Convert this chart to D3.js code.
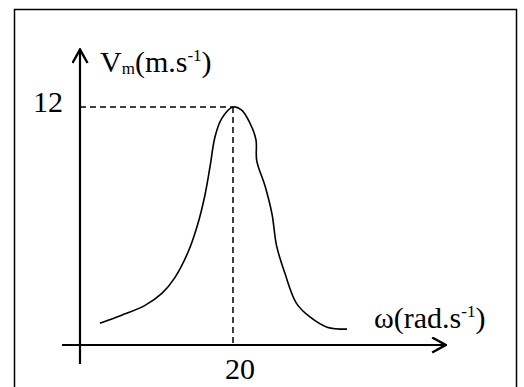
<!DOCTYPE html>
<html>
<head>
<meta charset="utf-8">
<script src="https://cdn.jsdelivr.net/npm/d3@7"></script>
<style>
  html, body { margin: 0; padding: 0; background: #fff; }
  svg { display: block; }
  text { font-family: "Liberation Serif", "Times New Roman", serif; fill: #000; }
</style>
</head>
<body>
<svg id="chart" width="524" height="387"></svg>
<script>
// Resonance curve: amplitude of velocity versus angular frequency
const omega = [2.6, 5.45, 8.5, 10.7, 12.4, 14.2, 15.4, 16.3, 17.0, 17.65, 18.5, 20.0, 21.1, 22.2, 23.0, 23.1, 24.2, 25.1, 25.7, 26.8, 28.3, 30.1, 32.3, 34.9];
const vMax  = [1.1, 1.5, 2.0, 2.6, 3.4, 4.75, 6.1, 7.5, 9.0, 10.5, 11.4, 12.0, 11.85, 11.2, 10.35, 9.3, 8.0, 6.6, 5.0, 3.6, 2.1, 1.4, 0.9, 0.8];
const peakOmega = 20;
const peakV = 12;
const xTicks = ["20"];
const yTicks = ["12"];

const svg = d3.select("#chart");

// Frame around the figure
svg.append("rect")
  .attr("x", 14.5).attr("y", 9.5)
  .attr("width", 502).attr("height", 390)
  .attr("fill", "none").attr("stroke", "#000").attr("stroke-width", 1.5);

const x = d3.scaleLinear().domain([0, 20]).range([80, 233]);
const y = d3.scaleLinear().domain([0, 12]).range([345, 107]);

// Open arrow heads
const defs = svg.append("defs");
defs.append("marker")
  .attr("id", "arrow")
  .attr("viewBox", "0 0 17 17")
  .attr("refX", 15.5).attr("refY", 8.5)
  .attr("markerWidth", 17).attr("markerHeight", 17)
  .attr("markerUnits", "userSpaceOnUse")
  .attr("orient", "auto")
  .append("path")
  .attr("d", "M2,1 L15.5,8.5 L2,16")
  .attr("fill", "none").attr("stroke", "#000").attr("stroke-width", 2.4)
  .attr("stroke-linejoin", "miter");

// Axes
svg.append("line")
  .attr("x1", x(-2.35)).attr("y1", y(0))
  .attr("x2", x(47.8)).attr("y2", y(0))
  .attr("stroke", "#000").attr("stroke-width", 2.2)
  .attr("marker-end", "url(#arrow)");
svg.append("line")
  .attr("x1", x(0)).attr("y1", y(-0.96))
  .attr("x2", x(0)).attr("y2", y(14.9))
  .attr("stroke", "#000").attr("stroke-width", 2.2)
  .attr("marker-end", "url(#arrow)");

// Guides to the peak
svg.append("line")
  .attr("x1", x(0)).attr("y1", y(peakV))
  .attr("x2", x(peakOmega)).attr("y2", y(peakV))
  .attr("stroke", "#000").attr("stroke-width", 1.5)
  .attr("stroke-dasharray", "6,4");
svg.append("line")
  .attr("x1", x(peakOmega)).attr("y1", y(peakV))
  .attr("x2", x(peakOmega)).attr("y2", y(0))
  .attr("stroke", "#000").attr("stroke-width", 1.5)
  .attr("stroke-dasharray", "6,4");

// Curve
const data = omega.map((w, i) => [w, vMax[i]]);
svg.append("path")
  .datum(data)
  .attr("d", d3.line().x(d => x(d[0])).y(d => y(d[1])).curve(d3.curveCatmullRom.alpha(0.5)))
  .attr("fill", "none").attr("stroke", "#000").attr("stroke-width", 1.6);

// Tick labels
svg.append("text")
  .attr("x", x(peakOmega) + 7).attr("y", 379)
  .attr("text-anchor", "middle").attr("font-size", 30)
  .text(xTicks[0]);
svg.append("text")
  .attr("x", 63).attr("y", 112)
  .attr("text-anchor", "end").attr("font-size", 30)
  .text(yTicks[0]);

// Axis titles
const yTitle = svg.append("text").attr("x", 100).attr("y", 72).attr("font-size", 30);
yTitle.append("tspan").text("V");
yTitle.append("tspan").attr("font-size", 17).attr("dy", 2).text("m");
yTitle.append("tspan").attr("dy", -2).text("(m.s");
yTitle.append("tspan").attr("font-size", 17).attr("dy", -11).text("-1");
yTitle.append("tspan").attr("dy", 11).text(")");

const xTitle = svg.append("text").attr("x", 374).attr("y", 328).attr("font-size", 30);
xTitle.append("tspan").text("ω(rad.s");
xTitle.append("tspan").attr("font-size", 17).attr("dy", -11).text("-1");
xTitle.append("tspan").attr("dy", 11).text(")");
</script>
</body>
</html>
